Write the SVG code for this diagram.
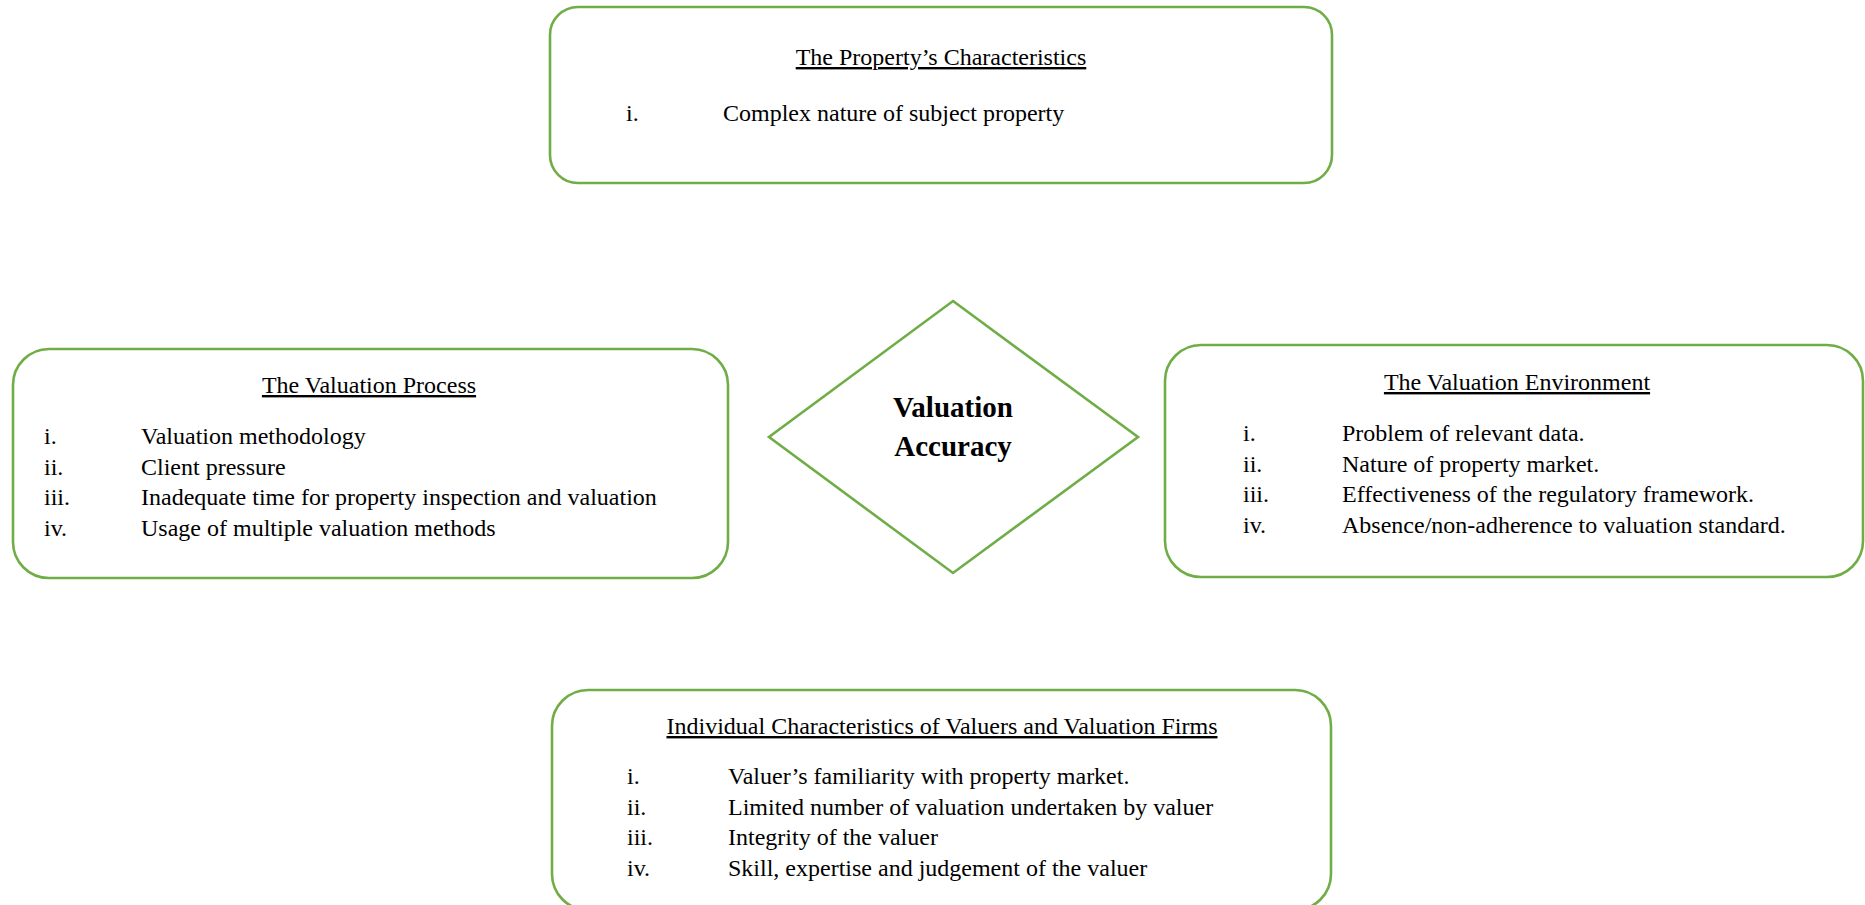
<svg xmlns="http://www.w3.org/2000/svg" width="1865" height="905" viewBox="0 0 1865 905">
<style>
.box{fill:#fff;stroke:#70AD47;stroke-width:2.6}
.t{font-family:"Liberation Serif","Times New Roman",serif;font-size:24px;fill:#000}
.h{text-anchor:middle;text-decoration:underline}
.b{font-family:"Liberation Serif","Times New Roman",serif;font-size:29px;font-weight:bold;text-anchor:middle;fill:#000}
</style>
<rect width="1865" height="905" fill="#fff"/>
<g id="connectors"></g>
<g id="property">
<rect class="box" x="550" y="7" width="782" height="176" rx="28" ry="28"/>
<text class="t h" x="941" y="65">The Property’s Characteristics</text>
<text class="t" x="626" y="121">i.</text>
<text class="t" x="723" y="121">Complex nature of subject property</text>
</g>
<g id="process">
<rect class="box" x="13" y="349" width="715" height="229" rx="36" ry="36"/>
<text class="t h" x="369" y="393">The Valuation Process</text>
<text class="t" x="44" y="444">i.</text><text class="t" x="141" y="444">Valuation methodology</text>
<text class="t" x="44" y="474.5">ii.</text><text class="t" x="141" y="474.5">Client pressure</text>
<text class="t" x="44" y="505">iii.</text><text class="t" x="141" y="505">Inadequate time for property inspection and valuation</text>
<text class="t" x="44" y="535.5">iv.</text><text class="t" x="141" y="535.5">Usage of multiple valuation methods</text>
</g>
<g id="accuracy">
<polygon class="box" points="953,301 1138,437 953,573 769,437"/>
<text class="b" x="953" y="417">Valuation</text>
<text class="b" x="953" y="456">Accuracy</text>
</g>
<g id="environment">
<rect class="box" x="1165" y="345" width="698" height="232" rx="36" ry="36"/>
<text class="t h" x="1517" y="390">The Valuation Environment</text>
<text class="t" x="1243" y="441">i.</text><text class="t" x="1342" y="441">Problem of relevant data.</text>
<text class="t" x="1243" y="471.5">ii.</text><text class="t" x="1342" y="471.5">Nature of property market.</text>
<text class="t" x="1243" y="502">iii.</text><text class="t" x="1342" y="502">Effectiveness of the regulatory framework.</text>
<text class="t" x="1243" y="532.5">iv.</text><text class="t" x="1342" y="532.5">Absence/non-adherence to valuation standard.</text>
</g>
<g id="individual">
<rect class="box" x="552" y="690" width="779" height="220" rx="36" ry="36"/>
<text class="t h" x="942" y="734">Individual Characteristics of Valuers and Valuation Firms</text>
<text class="t" x="627" y="784">i.</text><text class="t" x="728" y="784">Valuer’s familiarity with property market.</text>
<text class="t" x="627" y="814.5">ii.</text><text class="t" x="728" y="814.5">Limited number of valuation undertaken by valuer</text>
<text class="t" x="627" y="845">iii.</text><text class="t" x="728" y="845">Integrity of the valuer</text>
<text class="t" x="627" y="875.5">iv.</text><text class="t" x="728" y="875.5">Skill, expertise and judgement of the valuer</text>
</g>
</svg>
